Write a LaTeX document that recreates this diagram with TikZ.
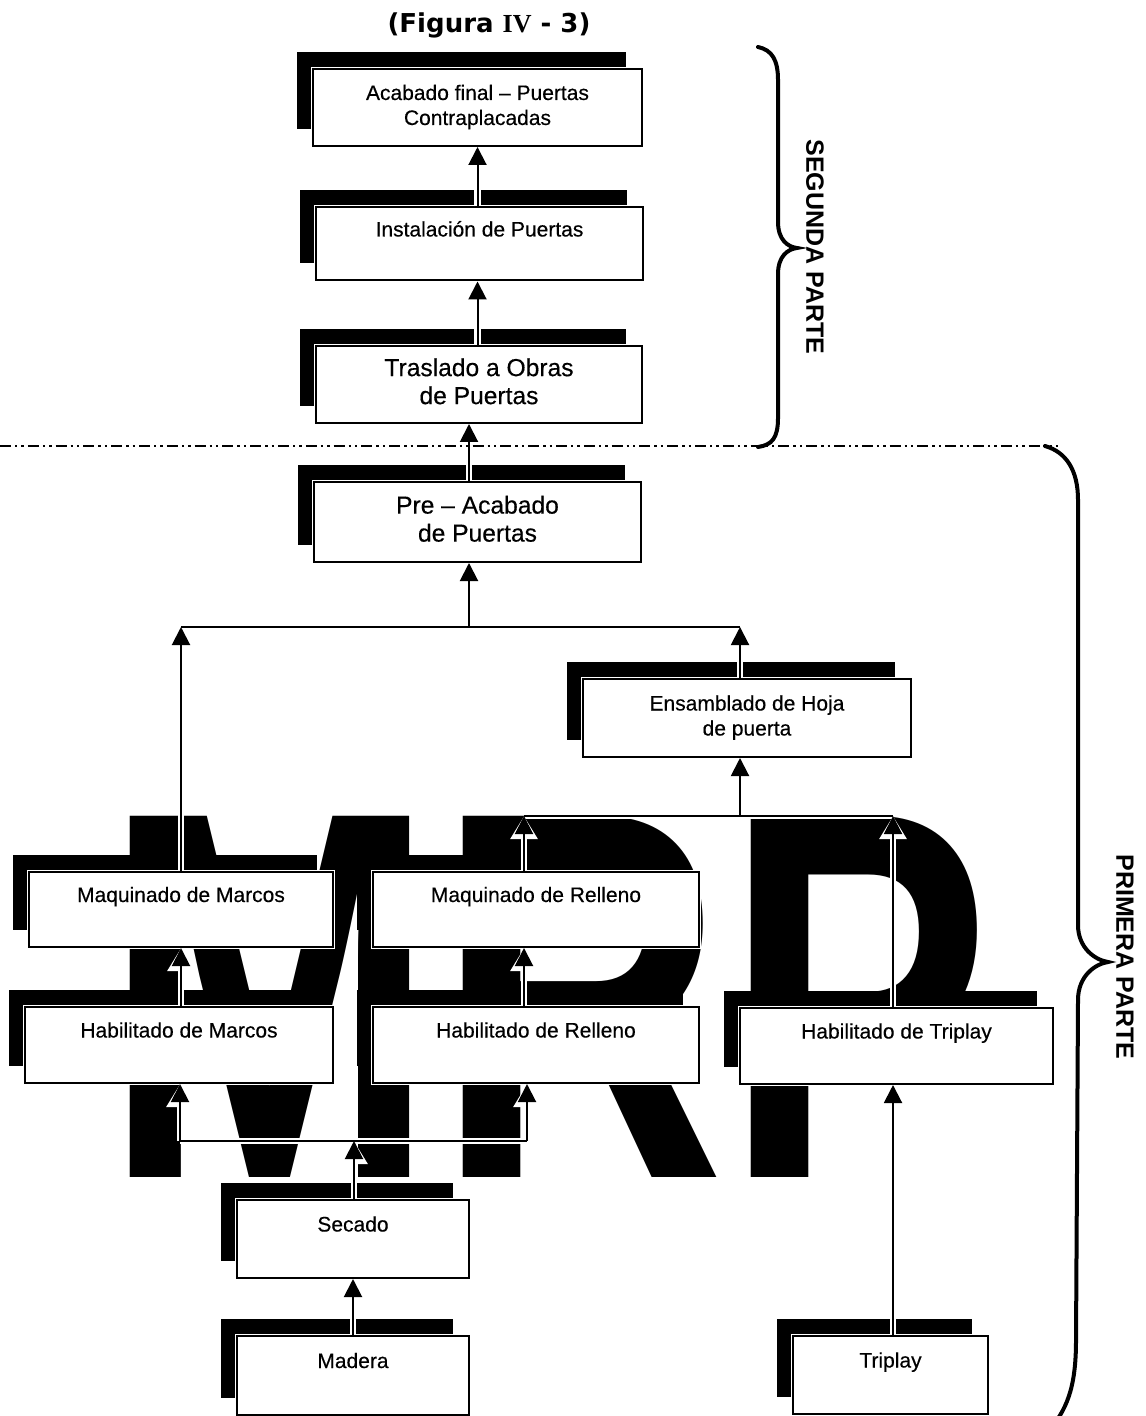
\documentclass[tikz,border=0pt]{standalone}
\usepackage{fontspec}
\setmainfont{Liberation Sans}
\newfontfamily\boxfont{Liberation Sans}[FakeBold=0.35, Ligatures=TeX]
\newfontfamily\dejavu{DejaVu Sans}
\newfontfamily\libserif{Liberation Serif}
\usetikzlibrary{arrows.meta,shadows,calc}

\tikzset{
  box/.style={draw=black, line width=1pt, fill=white, inner sep=0pt, align=center,
    general shadow={fill=black, shadow xshift=-8pt, shadow yshift=8.5pt},
    preaction={draw=white, line width=2pt},
    font=\boxfont\fontsize{10.5}{12.5}\selectfont},
  bigbox/.style={box, font=\boxfont\fontsize{12.3}{14}\selectfont},
  conn/.style={draw=black, line width=1pt, >={Triangle[length=9pt,width=9pt]}},
  halo/.style={draw=white, line width=3.2pt, >={Triangle[length=11.5pt,width=13pt]}},
  bracestyle/.style={draw=black, line width=2pt, line cap=round},
  sidelabel/.style={rotate=-90, font=\bfseries\fontsize{12.5}{15}\selectfont},
  sepline/.style={draw=black, line width=1pt, dash pattern=on 5.5pt off 2pt on 1.2pt off 2pt on 1.2pt off 2pt}
}

\newcommand\allconns[1]{%
  \draw[#1,->] (acab.south |- inst.north) -- (acab.south);
  \draw[#1,->] (acab.south |- tras.north) -- (acab.south |- inst.south);
  \draw[#1,->] (jTM |- pre.north) -- (jTM |- tras.south);
  \draw[#1] (jTL) -- (jTR);
  \draw[#1,->] (jTM) -- (jTM |- pre.south);
  \draw[#1,->] (jTL |- maqM.north) -- (jTL);
  \draw[#1,->] (jTR |- ens.north) -- (jTR);
  \draw[#1] (jML) -- (jMR);
  \draw[#1,->] (jTR |- jML) -- (jTR |- ens.south);
  \draw[#1,->] (jML |- maqR.north) -- (jML);
  \draw[#1,->] (jMR |- habT.north) -- (jMR);
  \draw[#1,->] (jTL |- habM.north) -- (jTL |- maqM.south);
  \draw[#1,->] (jML |- habR.north) -- (jML |- maqR.south);
  \draw[#1] (jBL) -- (jBR);
  \draw[#1,->] (jBM |- sec.north) -- (jBM);
  \draw[#1,->] (jBL) -- (jBL |- habM.south);
  \draw[#1,->] (jBR) -- (jBR |- habR.south);
  \draw[#1,->] (mad.north) -- (sec.south);
  \draw[#1,->] (jMR |- trip.north) -- (jMR |- habT.south);
}

\begin{document}
\begin{tikzpicture}[x=0.5pt,y=-0.5pt]
\useasboundingbox (0,0) rectangle (1145,1416);
\fill[white] (0,0) rectangle (1145,1416);
\clip (0,0) rectangle (1145,1416);

% watermark
\node[anchor=south west, inner sep=0pt] (wm) at (102.8,1178)
  {\resizebox{443.9pt}{180.5pt}{\bfseries MRP}};

% title
\node[font=\dejavu\bfseries\fontsize{13}{15}\selectfont] (title) at (489,25)
  {(Figura {\libserif\bfseries IV} - 3)};

% boxes
\node[box, minimum width=164.5pt, minimum height=38.5pt] (acab) at (477.5,107.5)
  {\strut Acabado final – Puertas\\\strut Contraplacadas};
\node[box, minimum width=163.5pt, minimum height=36.5pt] (inst) at (479.5,244)
  {\strut Instalación de Puertas\\\strut};
\node[bigbox, minimum width=163pt, minimum height=38.5pt] (tras) at (479,384.5)
  {\strut Traslado a Obras\\\strut de Puertas};
\node[bigbox, minimum width=163.5pt, minimum height=40pt] (pre) at (477.5,522)
  {\strut Pre – Acabado\\\strut de Puertas};
\node[box, minimum width=164pt, minimum height=39pt] (ens) at (747,718)
  {\strut Ensamblado de Hoja\\\strut de puerta};
\node[box, minimum width=152pt, minimum height=37.5pt] (maqM) at (181,909.5)
  {\strut Maquinado de Marcos\\\strut};
\node[box, minimum width=163pt, minimum height=37.5pt] (maqR) at (536,909.5)
  {\strut Maquinado de Relleno\\\strut};
\node[box, minimum width=154pt, minimum height=38pt] (habM) at (179,1045)
  {\strut Habilitado de Marcos\\\strut};
\node[box, minimum width=163pt, minimum height=38pt] (habR) at (536,1045)
  {\strut Habilitado de Relleno\\\strut};
\node[box, minimum width=156.5pt, minimum height=38pt] (habT) at (896.5,1046)
  {\strut Habilitado de Triplay\\\strut};
\node[box, minimum width=116pt, minimum height=39pt] (sec) at (353,1239)
  {\strut Secado\\\strut};
\node[box, minimum width=116pt, minimum height=39.5pt] (mad) at (353,1375.5)
  {\strut Madera\\\strut};
\node[box, minimum width=97.5pt, minimum height=39pt] (trip) at (890.5,1375)
  {\strut Triplay\\\strut};

% junction points
\coordinate (jTL) at (181,627);
\coordinate (jTR) at (740,627);
\coordinate (jTM) at (469,627);
\coordinate (jML) at (524,816);
\coordinate (jMR) at (893,816);
\coordinate (jBL) at (180,1141);
\coordinate (jBR) at (527,1141);
\coordinate (jBM) at (354,1141);

% connectors: white halo first, then black lines
\allconns{halo}
\allconns{conn}

% separator
\draw[sepline] (0,446) -- (1058,446);

% braces
\draw[bracestyle] (758,47) .. controls (772,50) and (778,60) .. (778,80)
  -- (778,222) .. controls (778,240) and (788,247) .. (797,248)
  .. controls (788,249) and (778,256) .. (778,274)
  -- (778,418) .. controls (778,438) and (772,445) .. (758,447);
\draw[bracestyle] (1045,446) .. controls (1066,452) and (1078,470) .. (1078,500)
  -- (1078,925) .. controls (1078,948) and (1095,960) .. (1108,962)
  .. controls (1095,964) and (1078,976) .. (1078,1000)
  -- (1076,1340) .. controls (1076,1390) and (1066,1410) .. (1048,1432);

% side labels
\node[sidelabel] (seg) at (815,247) {SEGUNDA PARTE};
\node[sidelabel] (prim) at (1125,957) {PRIMERA PARTE};
\end{tikzpicture}
\end{document}
